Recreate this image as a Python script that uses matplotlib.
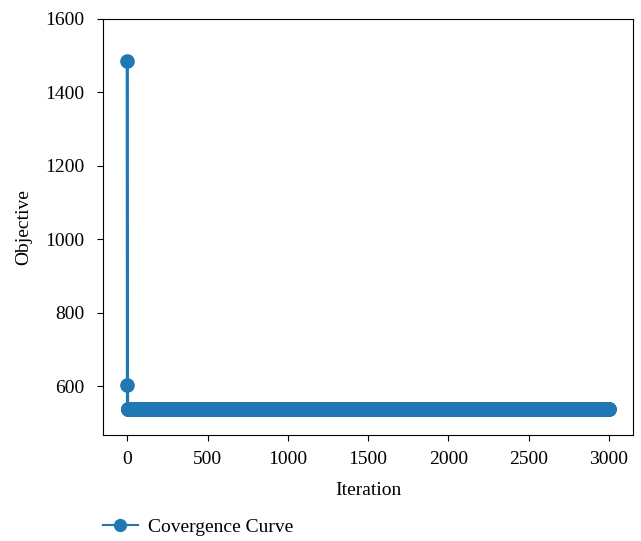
import numpy as np
import matplotlib
matplotlib.use("Agg")
import matplotlib.pyplot as plt
from matplotlib.lines import Line2D

plt.rcParams['font.family'] = ['Liberation Serif', 'DejaVu Serif']

# Objective value per iteration: two early drops, then a flat plateau
first_iterations = [0, 1]
first_objectives = [1485, 603]
plateau_objective = 540
last_iteration = 3000

iterations = np.arange(0, last_iteration + 1)
objectives = np.full(iterations.shape, plateau_objective, dtype=float)
objectives[first_iterations] = first_objectives

blue = '#1f77b4'

fig = plt.figure(figsize=(6.41, 5.41), dpi=100)
ax = fig.add_axes([0.161, 0.196, 0.8265, 0.769])

ax.plot(iterations, objectives, color=blue, marker='o',
        markersize=9.5, linewidth=2.3)

ax.set_ylim(468, 1600)
ax.set_xticks([0, 500, 1000, 1500, 2000, 2500, 3000])
ax.set_yticks([600, 800, 1000, 1200, 1400, 1600])
ax.tick_params(axis='both', labelsize=14, length=4.5)
ax.tick_params(axis='y', pad=9)
ax.tick_params(axis='x', pad=7)
ax.set_xlabel('Iteration', fontsize=14, labelpad=10)
ax.set_ylabel('Objective', fontsize=14, labelpad=9)

handle = Line2D([], [], color=blue, marker='o', markersize=8.5, linewidth=1.5)
fig.legend(handles=[handle], labels=['Covergence Curve'], loc='center left',
           bbox_to_anchor=(0.133, 0.025), frameon=False, fontsize=14,
           handlelength=1.8, handletextpad=0.55)

fig.savefig('out.png', dpi=100)
